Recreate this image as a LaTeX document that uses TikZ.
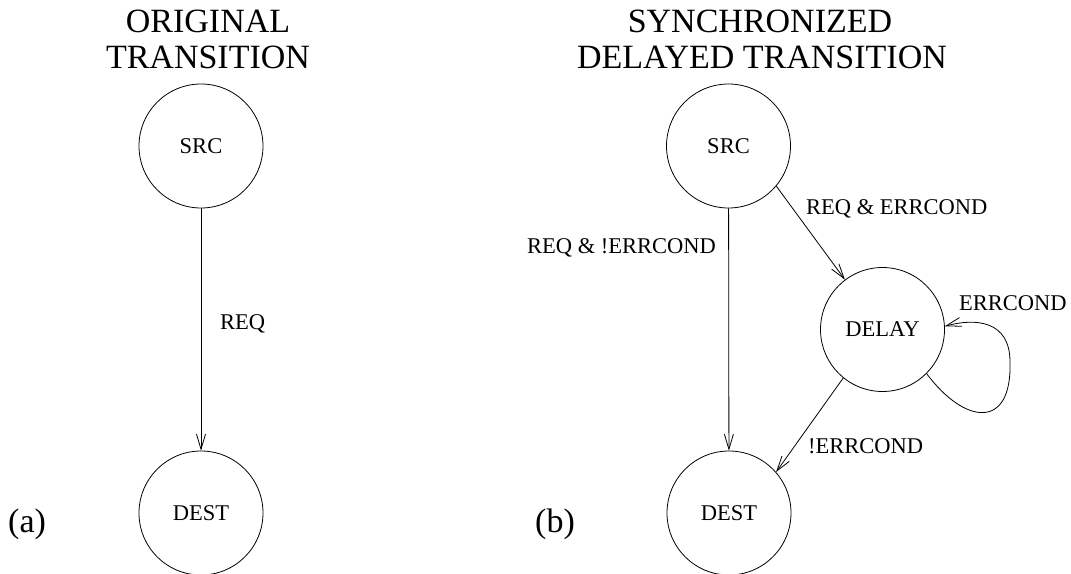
\documentclass[tikz,border=0pt]{standalone}
\usepackage{fontspec}
\setmainfont{Liberation Serif}
\usetikzlibrary{arrows.meta}

\tikzset{
  state/.style={draw, circle, line width=0.8pt, minimum size=124pt, inner sep=0pt,
                font=\fontsize{22.5}{27}\selectfont},
  trans/.style={line width=0.8pt, -{Straight Barb[length=15pt,width=9pt,line width=0.8pt]}},
  edgelabel/.style={anchor=base west, inner sep=0pt, font=\fontsize{22.5}{27}\selectfont},
  heading/.style={align=center, inner sep=0pt, font=\fontsize{34}{36}\selectfont},
  tag/.style={anchor=base west, inner sep=0pt, font=\fontsize{34}{36}\selectfont}
}

\begin{document}
\begin{tikzpicture}[x=1pt, y=-1pt]
  \useasboundingbox (0,0) rectangle (1071,573);

  % (a) original transition
  \node[heading, anchor=base] (titleA) at (208,32) {ORIGINAL};
  \node[heading, anchor=base] (titleA2) at (208,68) {TRANSITION};
  \node[state] (srcA) at (201,146) {SRC};
  \node[state] (destA) at (201,513) {DEST};
  \draw[trans] (srcA) -- (destA);
  \node[edgelabel] (reqA) at (220,329) {REQ};
  \node[tag] (tagA) at (8,532) {(a)};

  % (b) synchronized delayed transition
  \node[heading, anchor=base] (titleB) at (760,32) {SYNCHRONIZED};
  \node[heading, anchor=base] (titleB2) at (762,68) {DELAYED TRANSITION};
  \node[state] (srcB) at (728.5,146) {SRC};
  \node[state] (delay) at (882.5,329.5) {DELAY};
  \node[state] (destB) at (729,513) {DEST};

  \draw[trans] (srcB) -- (destB);
  \draw[trans] (srcB.-40) -- (delay.127);
  \draw[trans] (delay.231) -- (destB.41);
  \draw[trans] (delay.-45) .. controls (965,425) and (1012,430) .. (1010,362)
                           .. controls (1010,320) and (975,318) .. (delay.3);

  \node[edgelabel] (lblDirect) at (527,253) {REQ \& !ERRCOND};
  \node[edgelabel] (lblDelay) at (806,214) {REQ \& ERRCOND};
  \node[edgelabel] (lblLoop) at (959,310) {ERRCOND};
  \node[edgelabel] (lblRelease) at (808,453) {!ERRCOND};
  \node[tag] (tagB) at (535,532) {(b)};
\end{tikzpicture}
\end{document}
